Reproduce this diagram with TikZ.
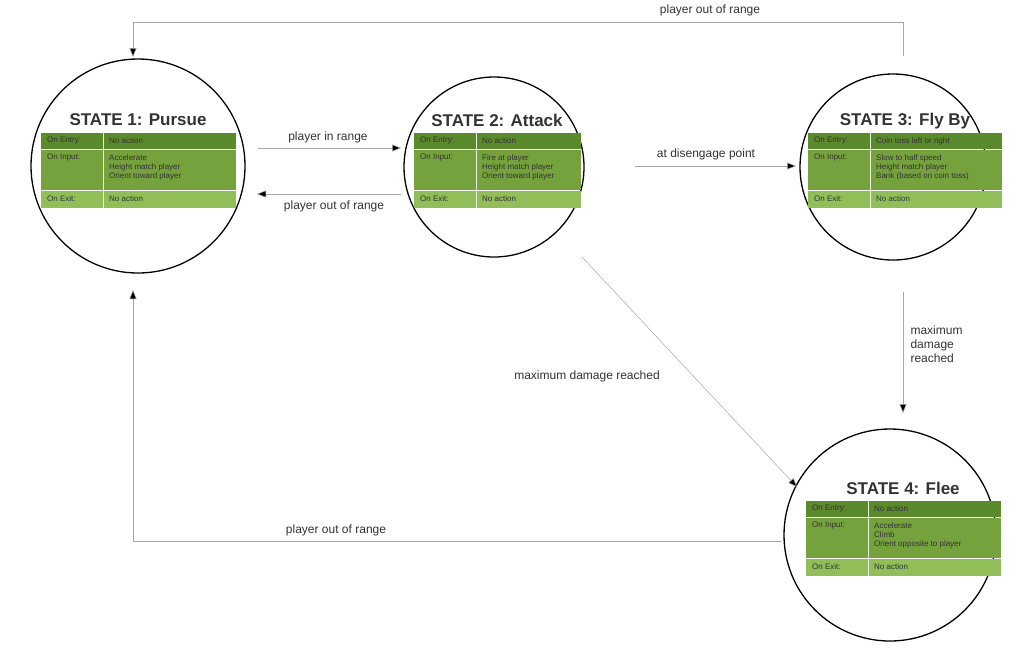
\documentclass[tikz,border=0pt]{standalone}
\usepackage{fontspec}
\setmainfont{Liberation Sans}
\usetikzlibrary{arrows.meta}
\definecolor{rA}{HTML}{5B8A2C}
\definecolor{rB}{HTML}{76A23E}
\definecolor{rC}{HTML}{92BE5A}
\definecolor{tx}{HTML}{333333}
\tikzset{
  stc/.style={draw=black,line width=1.3pt,circle},
  ttl/.style={font=\fontsize{17}{17}\selectfont\bfseries,text=tx},
  cell/.style={anchor=north west,font=\fontsize{8}{9}\selectfont,text=tx,align=left,inner sep=0pt},
  edge/.style={draw=gray!70,line width=0.5pt,-{Triangle[length=9pt,width=7pt,fill=black]}},
  lbl/.style={font=\fontsize{12}{14}\selectfont,text=tx,align=left}
}
% #1 name, #2 left x, #3 top y, #4 width, #5 entry, #6 input, #7 exit
\newcommand{\sttable}[7]{%
  \fill[rA] (#2,#3) rectangle ++(#4,16);
  \fill[rB] (#2,#3+17) rectangle ++(#4,40);
  \fill[rC] (#2,#3+58) rectangle ++(#4,17);
  \draw[white!80!rC,line width=0.8pt] (#2+62,#3) -- ++(0,75);
  \node[cell] (#1e) at (#2+6,#3+4) {On Entry:};
  \node[cell] (#1ev) at (#2+68,#3+4) {#5};
  \node[cell] (#1i) at (#2+6,#3+21) {On Input:};
  \node[cell] (#1iv) at (#2+68,#3+21) {#6};
  \node[cell] (#1x) at (#2+6,#3+62) {On Exit:};
  \node[cell] (#1xv) at (#2+68,#3+62) {#7};
}
\begin{document}
\begin{tikzpicture}[x=1pt,y=-1pt]
\useasboundingbox (0,0) rectangle (1024,649);
% circles
\node[stc,minimum size=214pt] (s1) at (138,166) {};
\node[stc,minimum size=180pt] (s2) at (494,167) {};
\node[stc,minimum size=186pt] (s3) at (893,167) {};
\node[stc,minimum size=212pt] (s4) at (890,535) {};
% titles
\node[ttl] (t1) at (138,120) {STATE 1: Pursue};
\node[ttl] (t2) at (497,120) {STATE 2: Attack};
\node[ttl] (t3) at (905,121) {STATE 3: Fly By};
\node[ttl] (t4) at (903,488) {STATE 4: Flee};
% tables
\sttable{a}{41}{133}{195}{No action}{Accelerate\\Height match player\\Orient toward player}{No action}
\sttable{b}{414}{133}{167}{No action}{Fire at player\\Height match player\\Orient toward player}{No action}
\sttable{c}{808}{133}{194}{Coin toss left or right}{Slow to half speed\\Height match player\\Bank (based on coin toss)}{No action}
\sttable{d}{806}{501}{195}{No action}{Accelerate\\Climb\\Orient opposite to player}{No action}
% connectors
\coordinate (p1) at (258,148); \coordinate (p2) at (401,148);
\draw[edge] (p1) -- (p2);
\node[lbl] (l1) at (328,137) {player in range};
\coordinate (q1) at (401,194); \coordinate (q2) at (257,194);
\draw[edge] (q1) -- (q2);
\node[lbl] (l2) at (334,206) {player out of range};
\coordinate (r1) at (635,166); \coordinate (r2) at (796,166);
\draw[edge] (r1) -- (r2);
\node[lbl] (l3) at (706,154) {at disengage point};
\coordinate (u1) at (903,56); \coordinate (u2) at (133,57);
\draw[edge] (u1) -- (903,22) -- (133,22) -- (u2);
\node[lbl] (l4) at (710,10) {player out of range};
\coordinate (v1) at (903,292); \coordinate (v2) at (903,413);
\draw[edge] (v1) -- (v2);
\node[lbl,anchor=west] (l5) at (907,344) {maximum\\damage\\reached};
\coordinate (w1) at (582,257); \coordinate (w2) at (797,487);
\draw[edge] (w1) -- (w2);
\node[lbl] (l6) at (587,376) {maximum damage reached};
\coordinate (z1) at (781,541); \coordinate (z2) at (133,290);
\draw[edge] (z1) -- (133,541) -- (z2);
\node[lbl] (l7) at (336,530) {player out of range};
\end{tikzpicture}
\end{document}
